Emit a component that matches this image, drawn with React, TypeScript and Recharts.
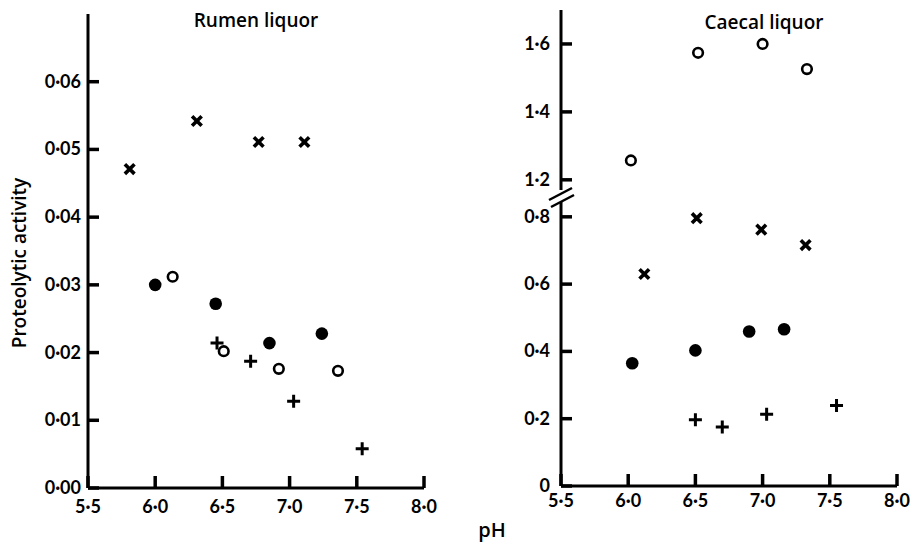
import { Scatter, ScatterChart, XAxis, YAxis } from "recharts";

// pH axis
const phTicks = [5.5, 6, 6.5, 7, 7.5, 8];

// Rumen liquor
const rumenTicks = [0, 0.01, 0.02, 0.03, 0.04, 0.05, 0.06];
const rumenCross = [
	{ ph: 5.81, act: 0.0471 },
	{ ph: 6.31, act: 0.0542 },
	{ ph: 6.77, act: 0.0511 },
	{ ph: 7.11, act: 0.0511 },
];
const rumenFilled = [
	{ ph: 6.0, act: 0.03 },
	{ ph: 6.45, act: 0.0272 },
	{ ph: 6.85, act: 0.0214 },
	{ ph: 7.24, act: 0.0228 },
];
const rumenOpen = [
	{ ph: 6.13, act: 0.0312 },
	{ ph: 6.51, act: 0.0202 },
	{ ph: 6.92, act: 0.0176 },
	{ ph: 7.36, act: 0.0173 },
];
const rumenPlus = [
	{ ph: 6.46, act: 0.0214 },
	{ ph: 6.71, act: 0.0187 },
	{ ph: 7.03, act: 0.0128 },
	{ ph: 7.54, act: 0.0058 },
];

// Caecal liquor (broken axis)
const caecalLowTicks = [0, 0.2, 0.4, 0.6, 0.8];
const caecalHighTicks = [1.2, 1.4, 1.6];
const caecalOpen = [
	{ ph: 6.02, act: 1.257 },
	{ ph: 6.52, act: 1.574 },
	{ ph: 7.0, act: 1.6 },
	{ ph: 7.33, act: 1.526 },
];
const caecalCross = [
	{ ph: 6.12, act: 0.63 },
	{ ph: 6.51, act: 0.796 },
	{ ph: 6.99, act: 0.762 },
	{ ph: 7.32, act: 0.716 },
];
const caecalFilled = [
	{ ph: 6.03, act: 0.365 },
	{ ph: 6.5, act: 0.403 },
	{ ph: 6.9, act: 0.459 },
	{ ph: 7.16, act: 0.466 },
];
const caecalPlus = [
	{ ph: 6.5, act: 0.197 },
	{ ph: 6.7, act: 0.175 },
	{ ph: 7.03, act: 0.213 },
	{ ph: 7.55, act: 0.239 },
];

const FONT = "Lato, 'Open Sans', sans-serif";
const LABEL_FONT = "'Open Sans', Lato, sans-serif";
const ink = "#000000";

const fmt = (digits: number) => (v: number) => v.toFixed(digits).replace(".", "·");
const fmtLow = (v: number) => (v === 0 ? "0" : v.toFixed(1).replace(".", "·"));

const axisLine = { stroke: ink, strokeWidth: 3 };

// tick positions as points on the axes, so the marks go through the chart scales
const xTickPoints = (ticks: number[], y0: number) => ticks.map((t) => ({ ph: t, act: y0 }));
const yTickPoints = (ticks: number[]) => ticks.map((t) => ({ ph: 5.5, act: t }));

const XTickMark = (p: any) => (
	<path d={`M${p.cx},${p.cy}V${p.cy - 12}`} stroke={ink} strokeWidth={3.5} fill="none" />
);
const YTickMark = (p: any) => (
	<path d={`M${p.cx},${p.cy}H${p.cx + 11}`} stroke={ink} strokeWidth={3.5} fill="none" />
);

const makeXTick = (fmtFn: (v: number) => string, gap: number) => (p: any) => {
	const { x, y, payload } = p;
	return (
		<text x={x} y={y + gap} textAnchor="middle" fontSize={18} fontWeight={700} fontFamily={FONT} fill={ink}>
			{fmtFn(payload.value)}
		</text>
	);
};

const makeYTick = (fmtFn: (v: number) => string, gap: number) => (p: any) => {
	const { x, y, payload } = p;
	return (
		<text x={x - gap} y={y + 6} textAnchor="end" fontSize={18} fontWeight={700} fontFamily={FONT} fill={ink}>
			{fmtFn(payload.value)}
		</text>
	);
};

const CrossMark = (p: any) => {
	const { cx, cy } = p;
	const s = 4.8;
	return (
		<path
			d={`M${cx - s},${cy - s}L${cx + s},${cy + s}M${cx + s},${cy - s}L${cx - s},${cy + s}`}
			stroke={ink}
			strokeWidth={3.6}
		/>
	);
};

const PlusMark = (p: any) => {
	const { cx, cy } = p;
	const s = 6.5;
	return (
		<path
			d={`M${cx - s},${cy}L${cx + s},${cy}M${cx},${cy - s}L${cx},${cy + s}`}
			stroke={ink}
			strokeWidth={3}
		/>
	);
};

const FilledMark = (p: any) => <circle cx={p.cx} cy={p.cy} r={6.3} fill={ink} />;

const OpenMark = (p: any) => (
	<circle cx={p.cx} cy={p.cy} r={4.8} fill="#fff" stroke={ink} strokeWidth={2.6} />
);

const RumenChart = () => (
	<ScatterChart width={460} height={548} margin={{ top: 14, right: 36, left: 0, bottom: 0 }}>
		<XAxis
			type="number"
			dataKey="ph"
			domain={[5.5, 8]}
			ticks={phTicks}
			height={60}
			tickSize={0}
			tickMargin={0}
			tick={makeXTick(fmt(1), 25)}
			axisLine={axisLine}
			tickLine={false}
			interval={0}
		/>
		<YAxis
			type="number"
			dataKey="act"
			domain={[0, 0.07]}
			ticks={rumenTicks}
			width={88}
			tickSize={0}
			tickMargin={0}
			tick={makeYTick(fmt(2), 7)}
			axisLine={axisLine}
			tickLine={false}
			interval={0}
		/>
		<Scatter data={xTickPoints(phTicks, 0)} shape={XTickMark} isAnimationActive={false} />
		<Scatter data={yTickPoints(rumenTicks)} shape={YTickMark} isAnimationActive={false} />
		<Scatter data={rumenCross} shape={CrossMark} isAnimationActive={false} />
		<Scatter data={rumenFilled} shape={FilledMark} isAnimationActive={false} />
		<Scatter data={rumenOpen} shape={OpenMark} isAnimationActive={false} />
		<Scatter data={rumenPlus} shape={PlusMark} isAnimationActive={false} />
	</ScatterChart>
);

const CaecalHigh = () => (
	<ScatterChart width={455} height={190} margin={{ top: 10, right: 18, left: 0, bottom: 0 }}>
		<XAxis type="number" dataKey="ph" domain={[5.5, 8]} hide />
		<YAxis
			type="number"
			dataKey="act"
			domain={[1.17, 1.7]}
			ticks={caecalHighTicks}
			width={101}
			tickSize={0}
			tickMargin={0}
			tick={makeYTick(fmt(1), 11)}
			axisLine={axisLine}
			tickLine={false}
			interval={0}
		/>
		<Scatter data={yTickPoints(caecalHighTicks)} shape={YTickMark} isAnimationActive={false} />
		<Scatter data={caecalOpen} shape={OpenMark} isAnimationActive={false} />
	</ScatterChart>
);

const CaecalLow = () => (
	<ScatterChart width={455} height={358} margin={{ top: 10, right: 18, left: 0, bottom: 0 }}>
		<XAxis
			type="number"
			dataKey="ph"
			domain={[5.5, 8]}
			ticks={phTicks}
			height={62}
			tickSize={0}
			tickMargin={0}
			tick={makeXTick(fmt(1), 21)}
			axisLine={axisLine}
			tickLine={false}
			interval={0}
		/>
		<YAxis
			type="number"
			dataKey="act"
			domain={[0, 0.85]}
			ticks={caecalLowTicks}
			width={101}
			tickSize={0}
			tickMargin={0}
			tick={makeYTick(fmtLow, 11)}
			axisLine={axisLine}
			tickLine={false}
			interval={0}
		/>
		<Scatter data={xTickPoints(phTicks, 0)} shape={XTickMark} isAnimationActive={false} />
		<Scatter data={yTickPoints(caecalLowTicks)} shape={YTickMark} isAnimationActive={false} />
		<Scatter data={caecalCross} shape={CrossMark} isAnimationActive={false} />
		<Scatter data={caecalFilled} shape={FilledMark} isAnimationActive={false} />
		<Scatter data={caecalPlus} shape={PlusMark} isAnimationActive={false} />
	</ScatterChart>
);

export default function App() {
	return (
		<div style={{ position: "absolute", left: 0, top: 0, width: 915, height: 548, background: "#fff" }}>
			<div style={{ position: "absolute", left: 0, top: 0 }}>
				<RumenChart />
			</div>
			<div style={{ position: "absolute", left: 460, top: 0 }}>
				<CaecalHigh />
			</div>
			<div style={{ position: "absolute", left: 460, top: 190 }}>
				<CaecalLow />
			</div>
			<svg
				width={915}
				height={548}
				style={{ position: "absolute", left: 0, top: 0, pointerEvents: "none" }}
				fontFamily={LABEL_FONT}
			>
				<text x={256} y={27} textAnchor="middle" fontSize={19} fontWeight={600} fill={ink}>
					Rumen liquor
				</text>
				<text x={764} y={29} textAnchor="middle" fontSize={19} fontWeight={600} fill={ink}>
					Caecal liquor
				</text>
				<text
					x={0}
					y={0}
					transform="translate(26,263) rotate(-90)"
					textAnchor="middle"
					fontSize={19}
					fontWeight={600}
					fill={ink}
				>
					Proteolytic activity
				</text>
				<text x={492} y={537} textAnchor="middle" fontSize={20} fontWeight={600} fill={ink}>
					pH
				</text>
				{/* axis break marks */}
				<rect x={558} y={191} width={6} height={11} fill="#fff" />
				<line x1={549} y1={200} x2={572} y2={188} stroke={ink} strokeWidth={2.5} />
				<line x1={551} y1={207} x2={574} y2={195} stroke={ink} strokeWidth={2.5} />
			</svg>
		</div>
	);
}
